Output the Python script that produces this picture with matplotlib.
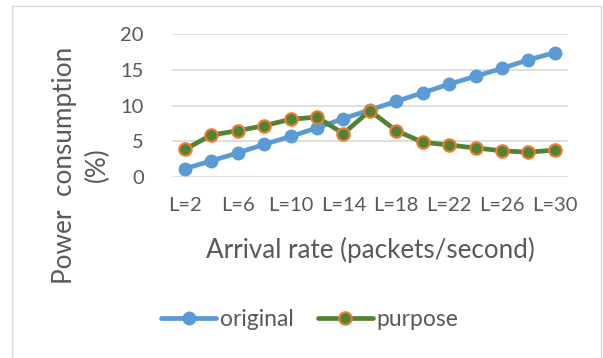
import matplotlib
matplotlib.use('Agg')
from matplotlib import pyplot as plt
from matplotlib.patches import Rectangle

# data
rates = [f"L={n}" for n in range(2, 31, 2)]
original = [1.2, 2.3, 3.4, 4.6, 5.7, 6.9, 8.2, 9.4, 10.6, 11.8, 13.0, 14.1, 15.2, 16.4, 17.4]
purpose = [3.9, 5.9, 6.5, 7.2, 8.1, 8.4, 6.1, 9.3, 6.5, 4.9, 4.5, 4.1, 3.7, 3.5, 3.8]
yticks = [0, 5, 10, 15, 20]

W, H = 603, 358
plt.rcParams['font.family'] = ['Lato', 'DejaVu Sans']
text_col = '#595959'

fig = plt.figure(figsize=(W / 100, H / 100), dpi=100)
ax = fig.add_axes([171.7 / W, 1 - 177.3 / H, (568 - 171.7) / W, (177.3 - 34) / H])

# chart border (light gray frame, bottom runs off the image)
fig.patches.append(Rectangle((12 / W, -0.05), (601 - 12) / W, 1.05 - 6 / H,
                             transform=fig.transFigure, fill=False,
                             edgecolor='#D9D9D9', linewidth=1.0))

x = list(range(len(rates)))
ax.plot(x, original, color='#5B9BD5', linewidth=3.4, marker='o', markersize=9,
        markerfacecolor='#5B9BD5', markeredgecolor='#5B9BD5', label='original',
        solid_capstyle='round', zorder=3)
ax.plot(x, purpose, color='#548235', linewidth=3.4, marker='o', markersize=9,
        markerfacecolor='#548235', markeredgecolor='#ED7D31', markeredgewidth=1.5,
        label='purpose', solid_capstyle='round', zorder=4)

ax.set_xlim(-0.5, len(rates) - 0.5)
ax.set_ylim(0, 20)
ax.set_yticks(yticks)
ax.set_yticklabels([str(v) for v in yticks])
ax.set_xticks(x[::2])
ax.set_xticklabels(rates[::2])
ax.yaxis.grid(True, color='#D9D9D9', linewidth=1.2)
ax.set_axisbelow(True)
for s in ax.spines.values():
    s.set_visible(False)
ax.tick_params(axis='both', length=0, labelsize=14.5, colors=text_col)
ax.tick_params(axis='y', pad=20)
ax.tick_params(axis='x', pad=14)

fig.text(370 / W, 1 - 250 / H, 'Arrival rate (packets/second)', ha='center', va='center',
         fontsize=18.7, color=text_col)
fig.text(81 / W, 1 - 165 / H, 'Power  consumption\n(%)', ha='center', va='center',
         rotation=90, fontsize=18.8, color=text_col, linespacing=1.4)

ax.legend(loc='center', bbox_to_anchor=(310 / W, 1 - 320 / H), bbox_transform=fig.transFigure,
          ncol=2, frameon=False, fontsize=16.5, labelcolor=text_col, handlelength=2.4,
          handletextpad=0.17, columnspacing=1.05)

fig.savefig('out.png', dpi=100)
